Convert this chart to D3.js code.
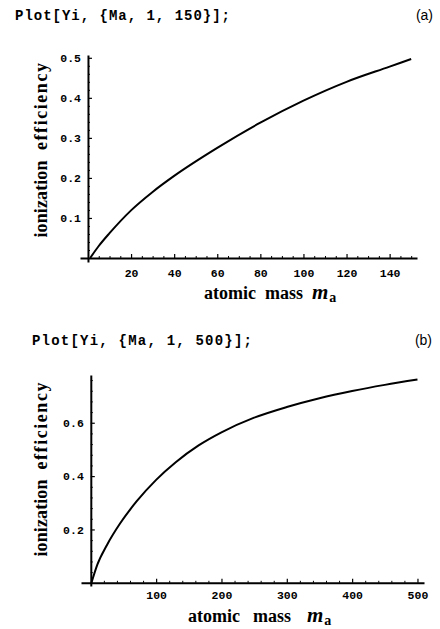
<!DOCTYPE html>
<html>
<head>
<meta charset="utf-8">
<script src="https://cdn.jsdelivr.net/npm/d3@7"></script>
<style>
  html, body { margin: 0; padding: 0; background: #fff; }
  svg { display: block; }
</style>
</head>
<body>
<svg id="chart" width="440" height="629"></svg>
<script>
// ---- Data ----
const massA = [1, 5, 10, 20, 30, 40, 60, 80, 100, 120, 140, 150];
const effA  = [0, 0.030, 0.062, 0.119, 0.165, 0.205, 0.275, 0.338, 0.393, 0.440, 0.478, 0.497];
const massB = [1, 10, 25, 45, 70, 100, 130, 165, 200, 250, 300, 350, 400, 450, 500];
const effB  = [0, 0.068, 0.143, 0.223, 0.305, 0.386, 0.452, 0.515, 0.564, 0.619, 0.659, 0.692, 0.719, 0.742, 0.762];

const xTicksA = [20, 40, 60, 80, 100, 120, 140];
const yTicksA = [0.1, 0.2, 0.3, 0.4, 0.5];
const xTicksB = [100, 200, 300, 400, 500];
const yTicksB = [0.2, 0.4, 0.6];

const titleA = "Plot[Yi, {Ma, 1, 150}];";
const titleB = "Plot[Yi, {Ma, 1, 500}];";

const svg = d3.select("#chart");
const mono = "'Liberation Mono', 'DejaVu Sans Mono', monospace";
const serif = "'Liberation Serif', 'DejaVu Serif', serif";
const sans = "'Liberation Sans', Arial, sans-serif";

function panel(cfg) {
  const x = d3.scaleLinear().domain(cfg.xDom).range(cfg.xRange);
  const y = d3.scaleLinear().domain(cfg.yDom).range(cfg.yRange);
  const g = svg.append("g");

  // title & panel tag
  g.append("text").attr("x", cfg.titleX).attr("y", cfg.titleY)
    .attr("font-family", mono).attr("font-weight", "bold").attr("font-size", 14)
    .attr("textLength", cfg.titleLen).attr("lengthAdjust", "spacing")
    .text(cfg.title);
  g.append("text").attr("x", cfg.tagX).attr("y", cfg.titleY)
    .attr("font-family", sans).attr("font-size", 14).attr("text-anchor", "end")
    .text(cfg.tag);

  // minor ticks
  const xMinor = d3.range(cfg.xMinorStep, cfg.xDom[1], cfg.xMinorStep).filter(v => !cfg.xTicks.includes(v));
  const yMinor = d3.range(1, Math.floor(cfg.yDom[1] / cfg.yMinorStep + 1e-6) + 1).map(i => +(i * cfg.yMinorStep).toFixed(4))
    .filter(v => !cfg.yTicks.some(t => Math.abs(t - v) < 1e-6) && v <= cfg.yDom[1]);

  g.append("g").attr("transform", `translate(0,${y(0)})`)
    .call(d3.axisBottom(x).tickValues(xMinor).tickSizeInner(-2).tickSizeOuter(0).tickFormat(""))
    .call(s => s.select(".domain").remove())
    .selectAll("line").attr("stroke", "#000").attr("stroke-width", 1);
  g.append("g").attr("transform", `translate(${x(0)},0)`)
    .call(d3.axisLeft(y).tickValues(yMinor).tickSizeInner(-2).tickSizeOuter(0).tickFormat(""))
    .call(s => s.select(".domain").remove())
    .selectAll("line").attr("stroke", "#000").attr("stroke-width", 1);

  // major axes
  const xa = g.append("g").attr("transform", `translate(0,${y(0)})`)
    .call(d3.axisBottom(x).tickValues(cfg.xTicks).tickSizeInner(-4).tickSizeOuter(0).tickFormat(d3.format("d")));
  xa.select(".domain").attr("stroke", "#000").attr("stroke-width", 2);
  xa.selectAll("line").attr("stroke", "#000").attr("stroke-width", 1.2);
  xa.selectAll("text").attr("y", cfg.xLabelOff).attr("dy", 0)
    .attr("font-family", mono).attr("font-weight", "bold").attr("font-size", 11.5).attr("fill", "#000");

  const ya = g.append("g").attr("transform", `translate(${x(0)},0)`)
    .call(d3.axisLeft(y).tickValues(cfg.yTicks).tickSizeInner(-4).tickSizeOuter(0).tickPadding(7).tickFormat(d3.format(".1f")));
  ya.select(".domain").attr("stroke", "#000").attr("stroke-width", 2);
  ya.selectAll("line").attr("stroke", "#000").attr("stroke-width", 1.2);
  ya.selectAll("text").attr("font-family", mono).attr("font-weight", "bold").attr("font-size", 11.5).attr("fill", "#000");

  // curve
  const line = d3.line().x(d => x(d[0])).y(d => y(d[1])).curve(d3.curveMonotoneX);
  g.append("path").datum(cfg.mass.map((m, i) => [m, cfg.eff[i]]))
    .attr("d", line).attr("fill", "none").attr("stroke", "#000").attr("stroke-width", 2);

  // y axis label (two words, wide gap)
  [["ionization", cfg.yLab1Y, 77], ["efficiency", cfg.yLab2Y, 87]].forEach(([w, cy, len]) => {
    g.append("text")
      .attr("transform", `translate(${cfg.yLabX},${cy}) rotate(-90)`)
      .attr("text-anchor", "middle")
      .attr("font-family", serif).attr("font-weight", "bold").attr("font-size", 18)
      .attr("textLength", len).attr("lengthAdjust", "spacing")
      .text(w);
  });

  // x axis label
  const xl = g.append("text").attr("y", cfg.xLabY)
    .attr("font-family", serif).attr("font-weight", "bold").attr("font-size", 18);
  xl.append("tspan").attr("x", cfg.xLabX[0]).text("atomic");
  xl.append("tspan").attr("x", cfg.xLabX[1]).text("mass");
  xl.append("tspan").attr("x", cfg.xLabX[2]).attr("font-style", "italic").attr("font-size", 21).text("m");
  xl.append("tspan").attr("font-size", 14).attr("dx", 1).attr("dy", 3).text("a");
}

panel({
  title: titleA, tag: "(a)", titleX: 15, titleY: 20, titleLen: 215, tagX: 433,
  mass: massA, eff: effA,
  xDom: [-3.7, 152.7], xRange: [80, 417],
  yDom: [-0.01, 0.507], yRange: [262, 55],
  xTicks: xTicksA, yTicks: yTicksA, xMinorStep: 5, yMinorStep: 0.02,
  xLabelOff: 19, yLabX: 47, yLab1Y: 199, yLab2Y: 106.5, xLabX: [204, 265, 312], xLabY: 299
});

panel({
  title: titleB, tag: "(b)", titleX: 32, titleY: 345, titleLen: 220, tagX: 432,
  mass: massB, eff: effB,
  xDom: [-15, 510], xRange: [81, 424],
  yDom: [-0.012, 0.779], yRange: [586, 375],
  xTicks: xTicksB, yTicks: yTicksB, xMinorStep: 20, yMinorStep: 0.04,
  xLabelOff: 16, yLabX: 47, yLab1Y: 518, yLab2Y: 426, xLabX: [188, 253, 307], xLabY: 622
});
</script>
</body>
</html>
